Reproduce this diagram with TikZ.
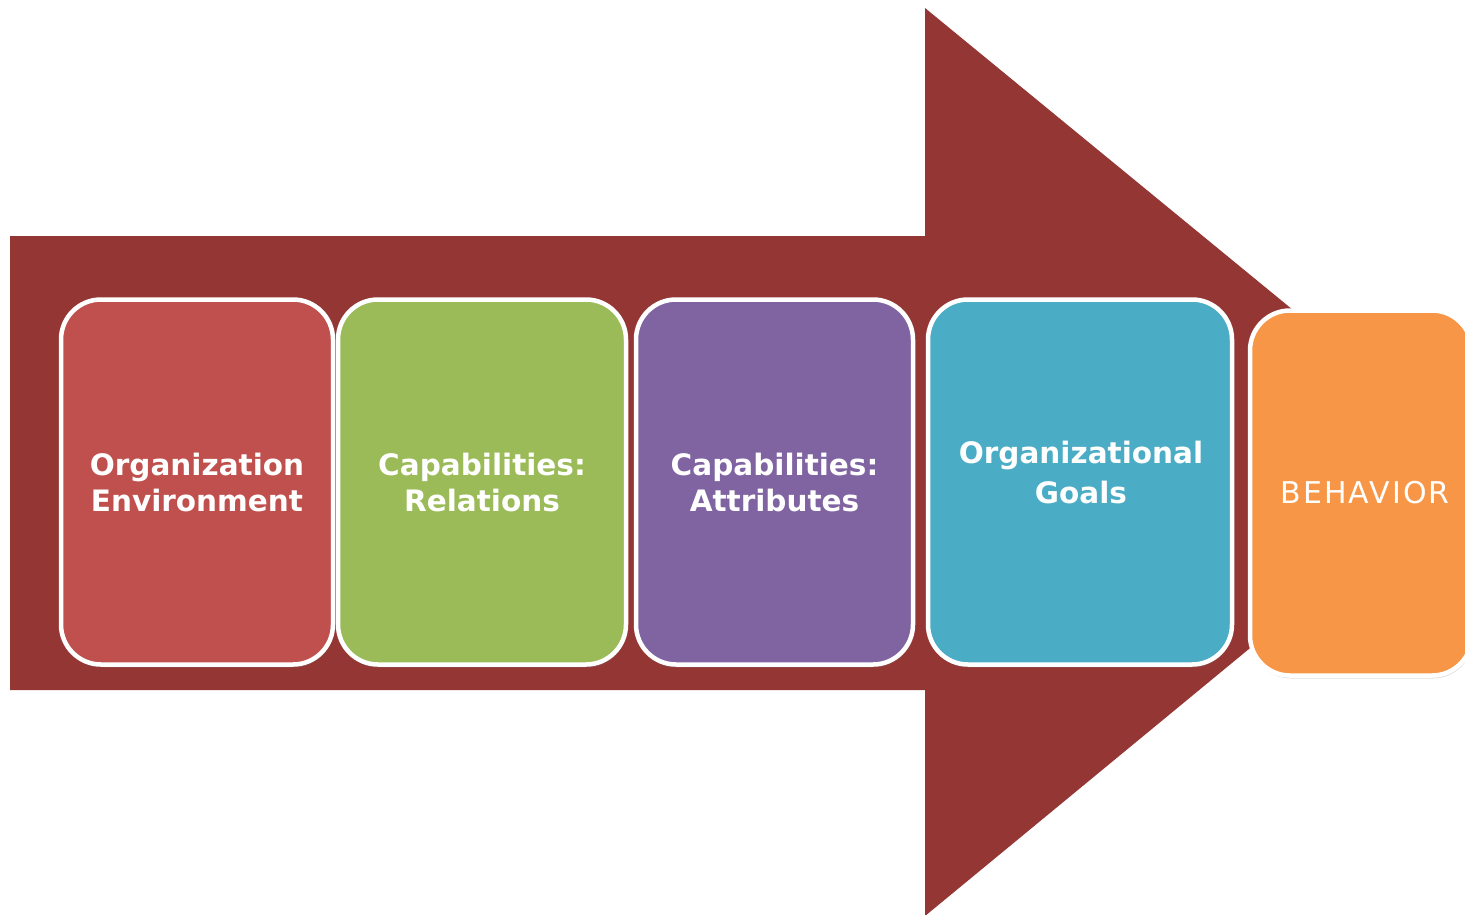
\documentclass[tikz,border=0pt]{standalone}
\usepackage{fontspec}
\setmainfont{DejaVu Sans}
\usetikzlibrary{shadows}
\definecolor{arrowred}{HTML}{943634}
\definecolor{c1}{HTML}{C0504D}
\definecolor{c2}{HTML}{9BBB59}
\definecolor{c3}{HTML}{8064A2}
\definecolor{c4}{HTML}{4BACC6}
\definecolor{c5}{HTML}{F79646}
\tikzset{
  card/.style={draw=white, line width=4.5pt, rounded corners=40pt, text=white,
    align=center, font=\fontsize{29.5}{36}\selectfont\bfseries, inner sep=0pt, outer sep=0pt,
    drop shadow={opacity=0.25, shadow xshift=1pt, shadow yshift=-3pt}},
}
\begin{document}
\begin{tikzpicture}[x=1pt,y=-1pt]
\useasboundingbox (0,0) rectangle (1465,914);
\clip (0,0) rectangle (1465,914);
\fill[arrowred] (10,236) -- (925,236) -- (925,8) -- (1477,461) -- (925,916) -- (925,690) -- (10,690) -- cycle;
\node[card, fill=c1, minimum width=272pt, minimum height=365pt] (b1) at (197,482) {Organization\\Environment};
\node[card, fill=c2, minimum width=288pt, minimum height=365pt] (b2) at (482,482) {Capabilities:\\Relations};
\node[card, fill=c3, minimum width=277pt, minimum height=365pt] (b3) at (774.5,482) {Capabilities:\\Attributes};
\node[card, fill=c4, minimum width=304pt, minimum height=365pt] (b4) at (1080,482) {};
\node[text=white, align=center, font=\fontsize{29.5}{40}\selectfont\bfseries] (t4) at (1081,472) {Organizational\\Goals};
\node[card, fill=c5, minimum width=222pt, minimum height=365pt] (b5) at (1361,493) {};
\node[text=white, font=\fontsize{30}{36}\selectfont\addfontfeature{LetterSpace=7}, inner sep=0pt] (t5) at (1365,493) {BEHAVIOR};
\end{tikzpicture}
\end{document}
